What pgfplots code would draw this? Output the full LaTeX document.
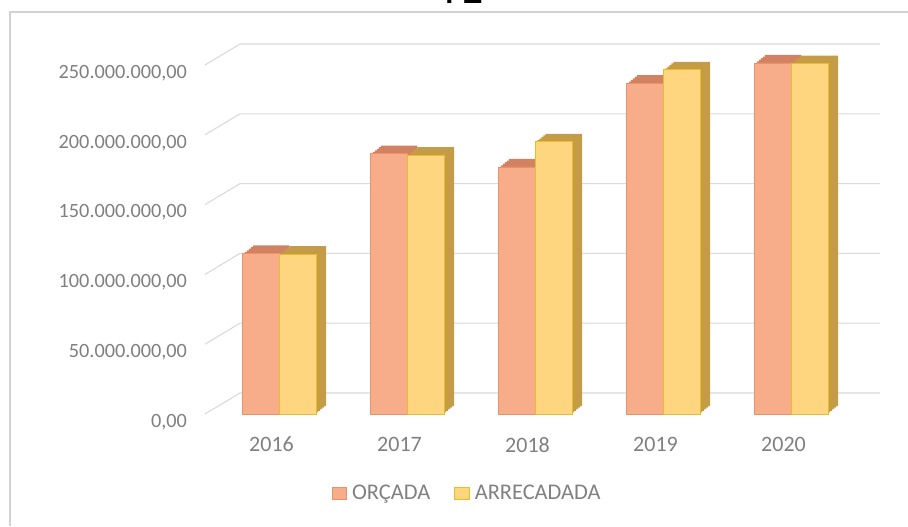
\documentclass[border=0pt]{standalone}
\usepackage{fontspec}
\setmainfont{Carlito}
\usepackage{pgfplots}
\usepackage{pgfplotstable}
\pgfplotsset{compat=1.18}
\definecolor{oF}{RGB}{247,172,138}
\definecolor{oE}{RGB}{236,145,105}
\definecolor{oS}{RGB}{208,130,98}
\definecolor{aF}{RGB}{255,214,128}
\definecolor{aE}{RGB}{236,188,40}
\definecolor{aS}{RGB}{196,156,72}
\definecolor{gridc}{RGB}{217,217,217}
\definecolor{txt}{RGB}{128,128,128}
\definecolor{framec}{RGB}{210,210,210}

\pgfplotstableread{
x o a
0 115 114.5
1 186.5 185.5
2 177 195
3 237 246.5
4 251.5 251
}\datatable

\tikzset{extr/.style={
 preaction={fill=#1,draw=none,transform canvas={shift={(1.5pt,1.2pt)}}},
 preaction={fill=#1,draw=none,transform canvas={shift={(3pt,2.4pt)}}},
 preaction={fill=#1,draw=none,transform canvas={shift={(4.5pt,3.6pt)}}},
 preaction={fill=#1,draw=none,transform canvas={shift={(6pt,4.8pt)}}},
 preaction={fill=#1,draw=none,transform canvas={shift={(7.5pt,6pt)}}}
}}
\pgfplotsset{sqlegend/.style={legend image code/.code={\draw[##1] (0pt,-4.5pt) rectangle (11pt,4.5pt);}}}

\begin{document}
\begin{tikzpicture}
\begin{axis}[
 at={(153.75pt,84pt)}, anchor=south west,
 width=480pt, height=261.75pt, scale only axis,
 xmin=-0.582, xmax=4.418, ymin=0, ymax=250,
 axis line style={draw=none},
 tick style={draw=none},
 ytick={0,50,100,150,200,250},
 yticklabels={{0,00},{50.000.000,00},{100.000.000,00},{150.000.000,00},{200.000.000,00},{250.000.000,00}},
 xtick={0,1,2,3,4},
 xticklabels={2016,2017,2018,2019,2020},
 ticklabel style={font=\fontsize{16.5}{18}\selectfont, text=txt},
 yticklabel style={xshift=-10pt, yshift=-6pt, font=\fontsize{15.2}{18}\selectfont},
 xticklabel style={xshift=-6pt, yshift=-9.5pt},
 ybar=0pt, bar width=27.5pt,
 clip=false,
 legend style={at={(0.41,-0.226)}, anchor=center, draw=none, fill=none,
   font=\fontsize{16.8}{18}\selectfont, text=txt,
   /tikz/every odd column/.append style={column sep=2pt},
   /tikz/every even column/.append style={column sep=16pt}},
 legend columns=2,
]
\pgfplotsinvokeforeach{0,50,100,150,200,250}{
 \draw[gridc, line width=0.8pt] (axis cs:-0.582,#1) -- ([shift={(26.25pt,15.75pt)}]axis cs:-0.582,#1) -- ([shift={(26.25pt,15.75pt)}]axis cs:4.418,#1);
}
\addplot[forget plot, bar shift=-13.75pt, draw=oE, line width=0.6pt, fill=oF, extr=oS] table[x=x,y=o]{\datatable};
\addplot[forget plot, bar shift=13.75pt, draw=aE, line width=0.6pt, fill=aF, extr=aS] table[x=x,y=a]{\datatable};
\addlegendimage{sqlegend, draw=oE, fill=oF}
\addlegendentry{ORÇADA}
\addlegendimage{sqlegend, draw=aE, fill=aF}
\addlegendentry{ARRECADADA}
\end{axis}
\draw[framec, line width=1.5pt] (7.5pt,0pt) -- (7.5pt,385.5pt) -- (690pt,385.5pt);
\node[anchor=base west, inner sep=0pt, font=\fontsize{34}{36}\selectfont] at (333.5pt,392pt) {P\kern-5pt E};
\pgfresetboundingbox
\useasboundingbox (0pt,0pt) rectangle (681pt,394.5pt);
\end{tikzpicture}
\end{document}
